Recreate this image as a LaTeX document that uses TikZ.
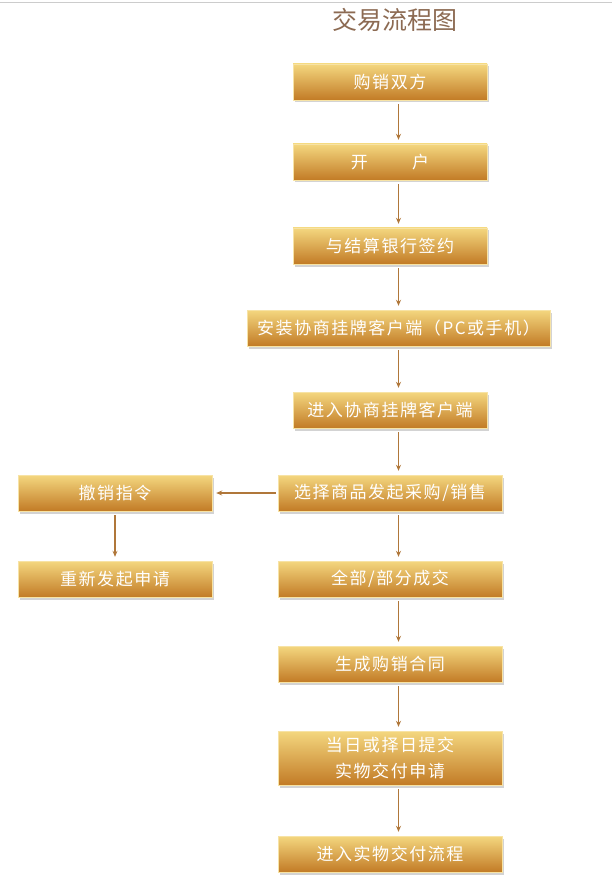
\documentclass[tikz,border=0pt]{standalone}
\usepackage{fontspec}
\newfontfamily\cjk{Noto Sans CJK SC}
\newfontfamily\cjkbox{Noto Sans CJK SC}[LetterSpace=9]
\usepackage{xcolor}
\usetikzlibrary{arrows.meta, positioning, shadows}

\definecolor{boxtop}{HTML}{F4D77F}
\definecolor{boxbot}{HTML}{C27B26}
\definecolor{arrowc}{HTML}{B0773A}
\definecolor{titlec}{HTML}{8C6A52}

\tikzset{
  stepbox/.style={rectangle, minimum height=36pt, inner sep=0pt,
    top color=boxtop, bottom color=boxbot, draw=boxtop!70!white, line width=0.4pt,
    drop shadow={shadow xshift=1.5pt, shadow yshift=-2.5pt, opacity=0.35},
    text=white, font=\cjkbox\fontsize{17}{26}\selectfont, align=center},
  flow/.style={-{Stealth[length=6pt,width=5pt]}, draw=arrowc, line width=1.1pt}
}

\begin{document}
\begin{tikzpicture}[x=1pt, y=-1pt]
  \useasboundingbox (0,0) rectangle (612,885);
  \draw[gray!40, line width=0.8pt] (0,2) -- (612,2);

  \node[text=titlec, font=\cjk\fontsize{25}{28}\selectfont] (title) at (395,20) {交易流程图};

  \node[stepbox, minimum width=194pt] (parties) at (390,82) {购销双方};
  \node[stepbox, minimum width=194pt] (account) at (390,162) {开\hspace{2.6em}户};
  \node[stepbox, minimum width=194pt] (bank) at (390,246) {与结算银行签约};
  \node[stepbox, minimum width=303pt] (install) at (398.5,328) {安装协商挂牌客户端（PC或手机）};
  \node[stepbox, minimum width=194pt] (client) at (390,410) {进入协商挂牌客户端};
  \node[stepbox, minimum width=224pt] (select) at (390,493) {选择商品发起采购/销售};
  \node[stepbox, minimum width=224pt] (deal) at (390,579) {全部/部分成交};
  \node[stepbox, minimum width=224pt] (contract) at (390,664) {生成购销合同};
  \node[stepbox, minimum width=224pt, minimum height=54pt] (submit) at (390,758) {当日或择日提交\\实物交付申请};
  \node[stepbox, minimum width=224pt] (deliver) at (390,854) {进入实物交付流程};

  \node[stepbox, minimum width=194pt] (cancel) at (115,493) {撤销指令};
  \node[stepbox, minimum width=194pt] (resend) at (115,579) {重新发起申请};

  \draw[flow] ([xshift=8.5pt,yshift=-4pt]parties.south) -- ([xshift=8.5pt,yshift=4pt]account.north);
  \draw[flow] ([xshift=8.5pt,yshift=-4pt]account.south) -- ([xshift=8.5pt,yshift=4pt]bank.north);
  \draw[flow] ([xshift=8.5pt,yshift=-4pt]bank.south) -- ([yshift=4pt]install.north);
  \draw[flow] ([yshift=-4pt]install.south) -- ([xshift=8.5pt,yshift=4pt]client.north);
  \draw[flow] ([xshift=8.5pt,yshift=-4pt]client.south) -- ([xshift=8.5pt,yshift=4pt]select.north);
  \draw[flow] ([xshift=8.5pt,yshift=-4pt]select.south) -- ([xshift=8.5pt,yshift=4pt]deal.north);
  \draw[flow] ([xshift=8.5pt,yshift=-4pt]deal.south) -- ([xshift=8.5pt,yshift=4pt]contract.north);
  \draw[flow] ([xshift=8.5pt,yshift=-4pt]contract.south) -- ([xshift=8.5pt,yshift=4pt]submit.north);
  \draw[flow] ([xshift=8.5pt,yshift=-4pt]submit.south) -- ([xshift=8.5pt,yshift=4pt]deliver.north);

  \draw[flow] ([xshift=-2pt]select.west) -- ([xshift=4pt]cancel.east);
  \draw[flow] ([yshift=-4pt]cancel.south) -- ([yshift=4pt]resend.north);
\end{tikzpicture}
\end{document}
